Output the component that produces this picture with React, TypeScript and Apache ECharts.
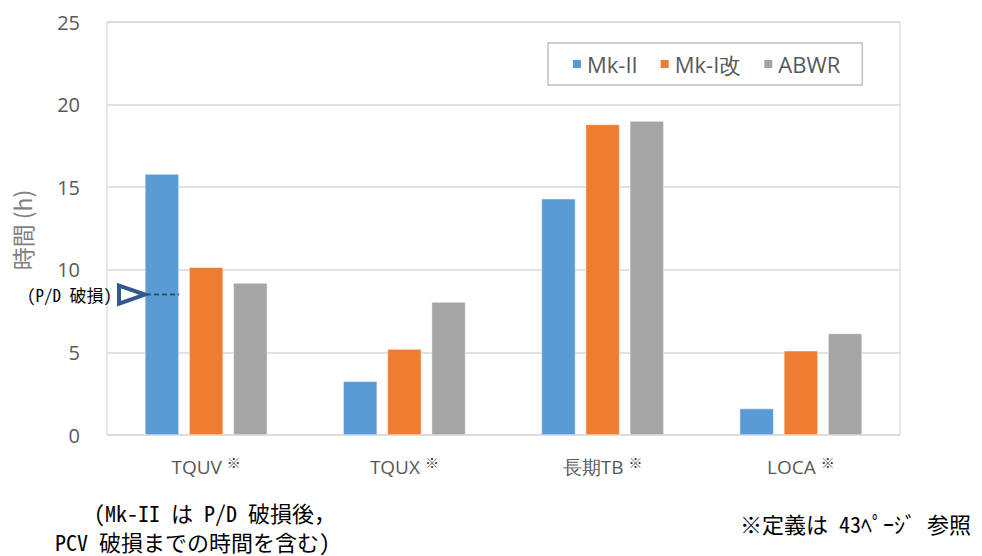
import React, { useEffect, useRef } from "react";
import * as echarts from "echarts";

const categories = ["TQUV", "TQUX", "長期TB", "LOCA"];
const seriesNames = ["Mk-II", "Mk-I改", "ABWR"];
const mk2 = [15.8, 3.25, 14.3, 1.6];
const mk1kai = [10.15, 5.2, 18.8, 5.1];
const abwr = [9.2, 8.05, 19.0, 6.15];
const colors = ["#5b9bd5", "#ed7d31", "#a5a5a5"];
const pdValue = 8.5;
const yTicks = { min: 0, max: 25, interval: 5 };

const CJK = "'Noto Sans CJK JP', 'Noto Sans', sans-serif";
const MONO = "'Noto Sans Mono CJK JP', 'Noto Sans CJK JP', monospace";
const LAT = "'Open Sans', 'Noto Sans', sans-serif";

export default function App() {
  const ref = useRef<HTMLDivElement>(null);
  useEffect(() => {
    if (!ref.current) return;
    const chart = echarts.init(ref.current, null, { renderer: "svg" });
    const data = [mk2, mk1kai, abwr];
    chart.setOption({
      animation: false,
      backgroundColor: "#ffffff",
      grid: {
        left: 107,
        right: 82,
        top: 22,
        bottom: 121,
        show: true,
        borderColor: "#d0d0d0",
        borderWidth: 1,
      },
      legend: {
        left: 548,
        top: 43,
        data: seriesNames,
        icon: "rect",
        itemWidth: 10,
        itemHeight: 10,
        itemGap: 21,
        padding: [10, 22, 10, 23],
        borderColor: "#bfbfbf",
        borderWidth: 1.5,
        textStyle: { fontSize: 22, color: "#595959", fontFamily: LAT },
      },
      xAxis: {
        type: "category",
        data: categories,
        axisLine: { show: false },
        axisTick: { show: false },
        axisLabel: {
          interval: 0,
          hideOverlap: false,
          margin: 20,
          fontSize: 19,
          color: "#595959",
          fontFamily: LAT,
          formatter: (v: string) => `{a|${v}} {b|※}`,
          rich: {
            a: { fontSize: 19, color: "#595959", fontFamily: LAT },
            b: { fontSize: 14, color: "#333333", fontFamily: CJK, verticalAlign: "top", padding: [0, 0, 10, 0] },
          },
        },
      },
      yAxis: {
        type: "value",
        min: yTicks.min,
        max: yTicks.max,
        interval: yTicks.interval,
        axisLine: { show: false },
        axisTick: { show: false },
        splitLine: { lineStyle: { color: "#d9d9d9", width: 1.5 } },
        axisLabel: { margin: 27, fontSize: 20, color: "#595959", fontFamily: LAT },
      },
      series: seriesNames.map((n, i) => ({
        name: n,
        type: "bar",
        data: data[i],
        barWidth: 34,
        barGap: "30%",
        itemStyle: { color: colors[i], borderColor: "#ffffff", borderWidth: 0.5 },
      })),
    });

    const py = chart.convertToPixel({ yAxisIndex: 0 }, pdValue) as number;
    const cx = chart.convertToPixel({ xAxisIndex: 0 }, categories[0]) as number;
    const blueRight = cx - 44 + 17;
    chart.setOption({
      graphic: [
        {
          type: "text",
          x: 22,
          y: 230,
          rotation: Math.PI / 2,
          z: 100,
          style: {
            text: "時間 (h)",
            fontSize: 23,
            fill: "#7f7f7f",
            fontFamily: CJK,
            align: "center",
            verticalAlign: "middle",
          },
        },
        {
          type: "text",
          x: 112,
          y: py,
          z: 100,
          style: {
            text: "(P/D 破損)",
            fontSize: 17,
            fill: "#000000",
            fontFamily: MONO,
            align: "right",
            verticalAlign: "middle",
          },
        },
        {
          type: "line",
          z: 100,
          shape: { x1: 146, y1: py, x2: blueRight, y2: py },
          style: { stroke: "#2a5768", lineWidth: 2, lineDash: [5, 3] },
        },
        {
          type: "polygon",
          z: 101,
          shape: { points: [[119, py - 9], [145, py], [119, py + 9]] },
          style: { fill: "#ffffff", stroke: "#33598a", lineWidth: 4, lineJoin: "miter" },
        },
        {
          type: "text",
          x: 94,
          y: 512,
          z: 100,
          style: {
            text: "(Mk-II は P/D 破損後，",
            fontSize: 22,
            fill: "#000000",
            fontFamily: MONO,
            verticalAlign: "middle",
          },
        },
        {
          type: "text",
          x: 55,
          y: 541,
          z: 100,
          style: {
            text: "PCV 破損までの時間を含む)",
            fontSize: 22,
            fill: "#000000",
            fontFamily: MONO,
            verticalAlign: "middle",
          },
        },
        {
          type: "text",
          x: 740,
          y: 523,
          z: 100,
          style: {
            text: "※定義は 43ﾍﾟｰｼﾞ 参照",
            fontSize: 22,
            fill: "#000000",
            fontFamily: MONO,
            verticalAlign: "middle",
          },
        },
      ],
    });
    return () => chart.dispose();
  }, []);
  return (
    <div
      ref={ref}
      style={{ position: "fixed", left: 0, top: 0, width: 982, height: 556 }}
    />
  );
}
